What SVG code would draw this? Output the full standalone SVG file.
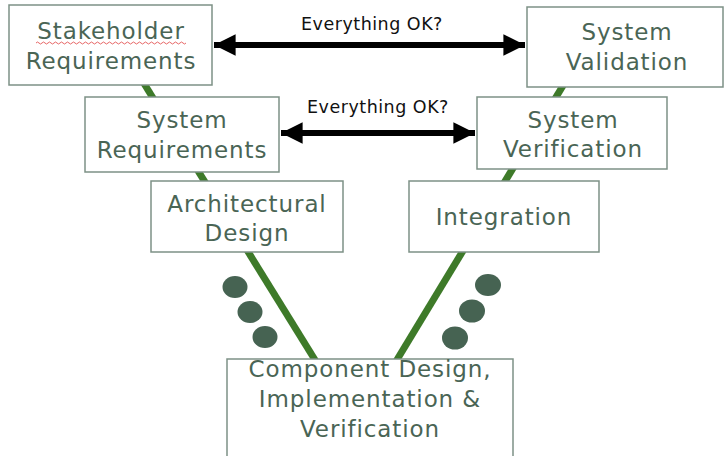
<svg xmlns="http://www.w3.org/2000/svg" width="724" height="456" viewBox="0 0 724 456">
<defs>
<style>
.box{fill:#fff;stroke:#7d9186;stroke-width:1.5}
.t{font-family:"DejaVu Sans","Liberation Sans",sans-serif;font-size:23px;fill:#4a6555;text-anchor:middle;letter-spacing:0.9px}
.lbl{font-family:"DejaVu Sans","Liberation Sans",sans-serif;font-size:17.5px;fill:#111;text-anchor:middle;letter-spacing:0.5px}
.v{stroke:#3e7a29;stroke-width:7;fill:none}
.dot{fill:#466352}
.arr{stroke:#000;stroke-width:6;fill:none}
</style>
<marker id="ah" viewBox="0 0 10 10" refX="10" refY="5" markerWidth="3.6" markerHeight="3.6" markerUnits="strokeWidth" orient="auto-start-reverse">
<path d="M0,0 L10,5 L0,10 Z" fill="#000"/>
</marker>
</defs>
<rect width="724" height="456" fill="#fff"/>
<g id="connectors">
<line class="v" x1="140" y1="77" x2="320" y2="368"/>
<line class="v" x1="567" y1="79" x2="392" y2="368"/>
<line class="arr" x1="214" y1="45" x2="525" y2="45" marker-start="url(#ah)" marker-end="url(#ah)"/>
<line class="arr" x1="281" y1="133" x2="475" y2="133" marker-start="url(#ah)" marker-end="url(#ah)"/>
<text class="lbl" x="372" y="30">Everything OK?</text>
<text class="lbl" x="378" y="113">Everything OK?</text>
</g>
<g id="dots-left">
<ellipse class="dot" cx="235" cy="287" rx="12.5" ry="11"/>
<ellipse class="dot" cx="250" cy="312" rx="12.5" ry="11"/>
<ellipse class="dot" cx="265" cy="337" rx="12.5" ry="11"/>
</g>
<g id="dots-right">
<ellipse class="dot" cx="488" cy="285" rx="13" ry="11"/>
<ellipse class="dot" cx="472" cy="311" rx="13" ry="11.5"/>
<ellipse class="dot" cx="455" cy="338" rx="13" ry="11.5"/>
</g>
<g id="stakeholder-req">
<rect class="box" x="9" y="5" width="203" height="80"/>
<text class="t" x="111" y="39">Stakeholder</text>
<text class="t" x="111" y="69">Requirements</text>
<path d="M36,43 q1.5,-2 3,0 t3,0 t3,0 t3,0 t3,0 t3,0 t3,0 t3,0 t3,0 t3,0 t3,0 t3,0 t3,0 t3,0 t3,0 t3,0 t3,0 t3,0 t3,0 t3,0 t3,0 t3,0 t3,0 t3,0 t3,0 t3,0 t3,0 t3,0 t3,0 t3,0 t3,0 t3,0 t3,0 t3,0 t3,0 t3,0 t3,0 t3,0 t3,0 t3,0 t3,0 t3,0 t3,0 t3,0 t3,0 t3,0 t3,0 t3,0 t3,0 t3,0" fill="none" stroke="#e04040" stroke-width="0.8"/>
</g>
<g id="system-req">
<rect class="box" x="85" y="97" width="194" height="75"/>
<text class="t" x="182" y="128">System</text>
<text class="t" x="182" y="158">Requirements</text>
</g>
<g id="system-validation">
<rect class="box" x="527" y="7" width="196" height="80"/>
<text class="t" x="627" y="40">System</text>
<text class="t" x="627" y="70">Validation</text>
</g>
<g id="system-verification">
<rect class="box" x="477" y="97" width="190" height="72"/>
<text class="t" x="573" y="128">System</text>
<text class="t" x="573" y="157">Verification</text>
</g>
<g id="architectural-design">
<rect class="box" x="151" y="181" width="192" height="71"/>
<text class="t" x="247" y="212">Architectural</text>
<text class="t" x="247" y="241">Design</text>
</g>
<g id="integration">
<rect class="box" x="409" y="181" width="190" height="71"/>
<text class="t" x="504" y="225">Integration</text>
</g>
<g id="component">
<rect class="box" x="227" y="359" width="286" height="110"/>
<text class="t" x="370" y="377">Component Design,</text>
<text class="t" x="370" y="407">Implementation &amp;</text>
<text class="t" x="370" y="437">Verification</text>
</g>
</svg>
